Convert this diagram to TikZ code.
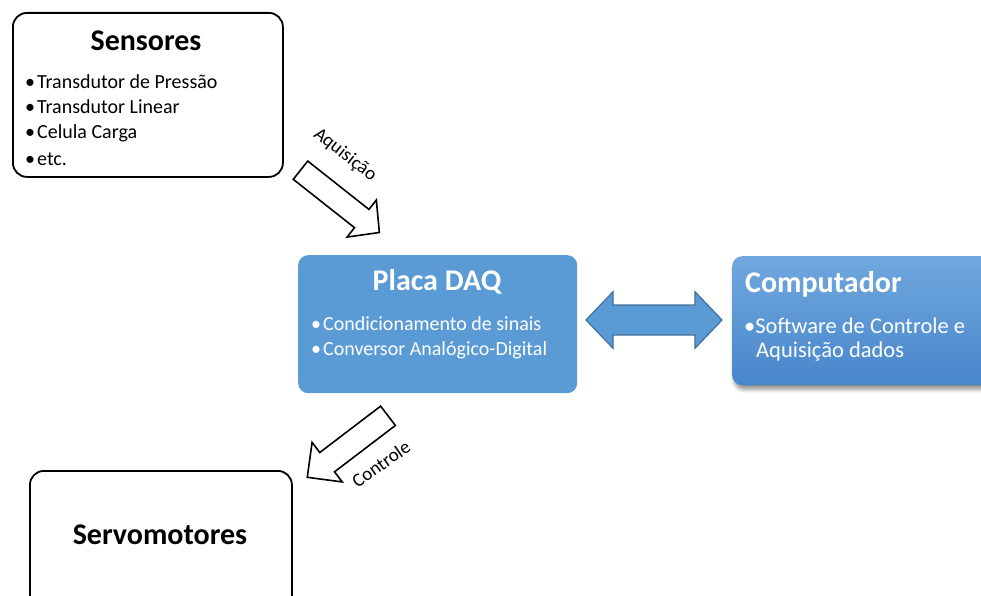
\documentclass[tikz,border=0pt]{standalone}
\usepackage{fontspec}
\setmainfont{Carlito}
\usetikzlibrary{shadows.blur}
\definecolor{daqblue}{HTML}{5B9BD5}
\definecolor{daqedge}{HTML}{41719C}
\definecolor{pctop}{HTML}{70A8DE}
\definecolor{pcbot}{HTML}{4886CB}
\newcommand{\bul}{•\kern2pt}

\begin{document}
\begin{tikzpicture}[x=1pt,y=-1pt,
  whitebox/.style={draw=black, line width=1.8pt, rounded corners=14pt, fill=white, anchor=north west},
  daqbox/.style={fill=daqblue, draw=none, rounded corners=10pt, anchor=north west},
  pcbox/.style={top color=pctop, bottom color=pcbot, draw=none, rounded corners=10pt, anchor=north west,
    blur shadow={shadow xshift=2pt, shadow yshift=-4pt, shadow blur radius=4pt, shadow opacity=45}},
  title/.style={font=\bfseries\fontsize{30}{34}\selectfont, inner sep=0pt},
  item/.style={font=\fontsize{20}{24}\selectfont, inner sep=0pt, anchor=base west},
  pcitem/.style={font=\fontsize{22.5}{26}\selectfont, inner sep=0pt, anchor=base west},
  hollowarrow/.style={draw=black, line width=1.6pt, fill=white, line join=miter},
  bluearrow/.style={draw=daqedge, line width=1.2pt, fill=daqblue, line join=miter},
  arrowlabel/.style={font=\fontsize{19}{22}\selectfont, inner sep=0pt}]
\useasboundingbox (0,0) rectangle (981,596);
\clip (0,0) rectangle (981,596);

% Sensores
\node[whitebox, minimum width=270pt, minimum height=164pt] (sens) at (12,12) {};
\node[title, anchor=base] (senst) at (146,51) {Sensores};
\node[item] (s1) at (25,89) {\bul Transdutor de Pressão};
\node[item] (s2) at (25,114) {\bul Transdutor Linear};
\node[item] (s3) at (25,139) {\bul Celula Carga};
\node[item] (s4) at (25,165) {\bul etc.};

% Placa DAQ
\node[daqbox, minimum width=279pt, minimum height=138pt] (daq) at (298,255) {};
\node[title, anchor=base, text=white] (daqt) at (437,290) {Placa DAQ};
\node[item, text=white] (d1) at (311,330) {\bul Condicionamento de sinais};
\node[item, text=white] (d2) at (311,355) {\bul Conversor Analógico-Digital};

% Computador
\node[pcbox, minimum width=270pt, minimum height=129pt] (pc) at (732,256) {};
\node[title, anchor=base west, text=white] (pct) at (745,292) {Computador};
\node[pcitem, text=white] (p1) at (744,333) {•Software de Controle e};
\node[pcitem, text=white] (p2) at (756,357) {Aquisição dados};

% Servomotores
\node[whitebox, minimum width=262pt, minimum height=150pt] (servo) at (29,470) {};
\node[title, anchor=base] (servot) at (160,544) {Servomotores};

% Aquisição arrow (sensors to DAQ board)
\begin{scope}[shift={(300.5,170.2)}, rotate=-38.3]
  \draw[hollowarrow] (0,-11.65) -- (78,-11.65) -- (78,-23.6) -- (100.5,0)
    -- (78,23.6) -- (78,11.65) -- (0,11.65) -- cycle;
\end{scope}
\node[arrowlabel, rotate=-38] (lacq) at (345,155) {Aquisição};

% Controle arrow (DAQ board to servomotors)
\begin{scope}[shift={(388,415.8)}, rotate=217.3]
  \draw[hollowarrow] (0,-12.15) -- (76.5,-12.15) -- (76.5,-24.85) -- (101.5,0)
    -- (76.5,24.85) -- (76.5,12.15) -- (0,12.15) -- cycle;
\end{scope}
\node[arrowlabel, rotate=35] (lctl) at (381,464) {Controle};

% Two-way link between DAQ board and computer
\draw[bluearrow] (586,320) -- (613,291.7) -- (613,305) -- (695,305) -- (695,291.7)
  -- (722,320) -- (695,348.3) -- (695,335) -- (613,335) -- (613,348.3) -- cycle;
\end{tikzpicture}
\end{document}
